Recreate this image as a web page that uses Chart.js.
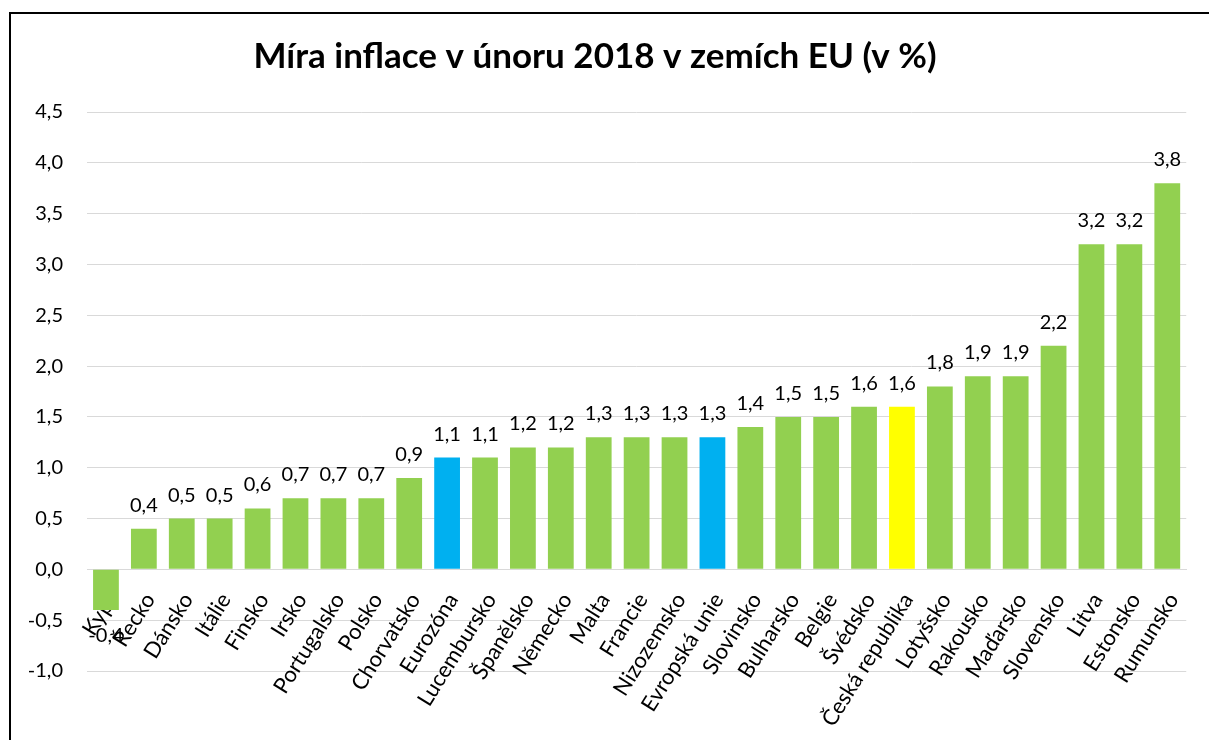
<!DOCTYPE html>
<html>
<head>
<meta charset="utf-8">
<script src="https://cdn.jsdelivr.net/npm/chart.js@4.4.1/dist/chart.umd.min.js"></script>
<style>
  html, body { margin: 0; padding: 0; background: #fff; }
  .frame { position: absolute; left: 9px; top: 12px; width: 1300px; height: 800px; border-left: 2px solid #000; border-top: 2px solid #000; }
  #chart { position: absolute; left: 0; top: 0; }
</style>
</head>
<body>
<div class="frame"></div>
<canvas id="chart" width="1209" height="740"></canvas>
<script>
const categories = ['Kypr', 'Řecko', 'Dánsko', 'Itálie', 'Finsko', 'Irsko', 'Portugalsko', 'Polsko', 'Chorvatsko',
  'Eurozóna', 'Lucembursko', 'Španělsko', 'Německo', 'Malta', 'Francie', 'Nizozemsko', 'Evropská unie',
  'Slovinsko', 'Bulharsko', 'Belgie', 'Švédsko', 'Česká republika', 'Lotyšsko', 'Rakousko', 'Maďarsko',
  'Slovensko', 'Litva', 'Estonsko', 'Rumunsko'];
const values = [-0.4, 0.4, 0.5, 0.5, 0.6, 0.7, 0.7, 0.7, 0.9,
  1.1, 1.1, 1.2, 1.2, 1.3, 1.3, 1.3, 1.3,
  1.4, 1.5, 1.5, 1.6, 1.6, 1.8, 1.9, 1.9,
  2.2, 3.2, 3.2, 3.8];
const blueCategories = ['Eurozóna', 'Evropská unie'];
const yellowCategories = ['Česká republika'];

const GREEN = '#92D050';
const BLUE = '#00B0F0';
const YELLOW = '#FFFF00';
const FONT = 'Lato, "Open Sans", sans-serif';

const barColors = categories.map(c => {
  if (blueCategories.includes(c)) return BLUE;
  if (yellowCategories.includes(c)) return YELLOW;
  return GREEN;
});

function fmt(v) {
  return v.toFixed(1).replace('.', ',');
}

// value labels above (or below for negative) each bar
const valueLabels = {
  id: 'valueLabels',
  afterDatasetsDraw(chart) {
    const ctx = chart.ctx;
    const meta = chart.getDatasetMeta(0);
    ctx.save();
    ctx.font = '20px ' + FONT;
    ctx.fillStyle = '#000';
    ctx.textAlign = 'center';
    ctx.textBaseline = 'alphabetic';
    meta.data.forEach((bar, i) => {
      const v = values[i];
      if (v >= 0) {
        ctx.fillText(fmt(v), bar.x, bar.y - 17);
      } else {
        ctx.fillText(fmt(v), bar.x, bar.y + 32);
      }
    });
    ctx.restore();
  }
};

new Chart(document.getElementById('chart'), {
  type: 'bar',
  data: {
    labels: categories,
    datasets: [{
      data: values,
      backgroundColor: barColors,
      borderWidth: 0,
      barPercentage: 0.68,
      categoryPercentage: 1,
    }],
  },
  options: {
    responsive: false,
    animation: false,
    devicePixelRatio: 1,
    layout: { padding: { left: 0, right: 19, top: 0, bottom: 69 } },
    scales: {
      x: {
        position: { y: 0 },
        grid: { display: false, drawTicks: false },
        border: { display: true, color: '#d9d9d9', width: 1 },
        ticks: {
          autoSkip: false,
          minRotation: 58,
          maxRotation: 58,
          padding: 19,
          labelOffset: 6,
          color: '#000',
          font: { family: FONT, size: 22 },
        },
      },
      y: {
        min: -1,
        max: 4.5,
        grid: { color: '#d9d9d9', lineWidth: 1, drawTicks: false },
        border: { display: false },
        ticks: {
          stepSize: 0.5,
          padding: 24,
          color: '#000',
          font: { family: FONT, size: 20 },
          callback: v => fmt(v),
        },
        afterFit(scale) { scale.width = 87; },
      },
    },
    plugins: {
      legend: { display: false },
      tooltip: { enabled: false },
      title: {
        display: true,
        text: 'Míra inflace v únoru 2018 v zemích EU (v %)',
        color: '#000',
        font: { family: FONT, size: 35, weight: 'bold', lineHeight: 1.2 },
        padding: { top: 36, bottom: 34 },
      },
    },
  },
  plugins: [valueLabels],
});
</script>
</body>
</html>
